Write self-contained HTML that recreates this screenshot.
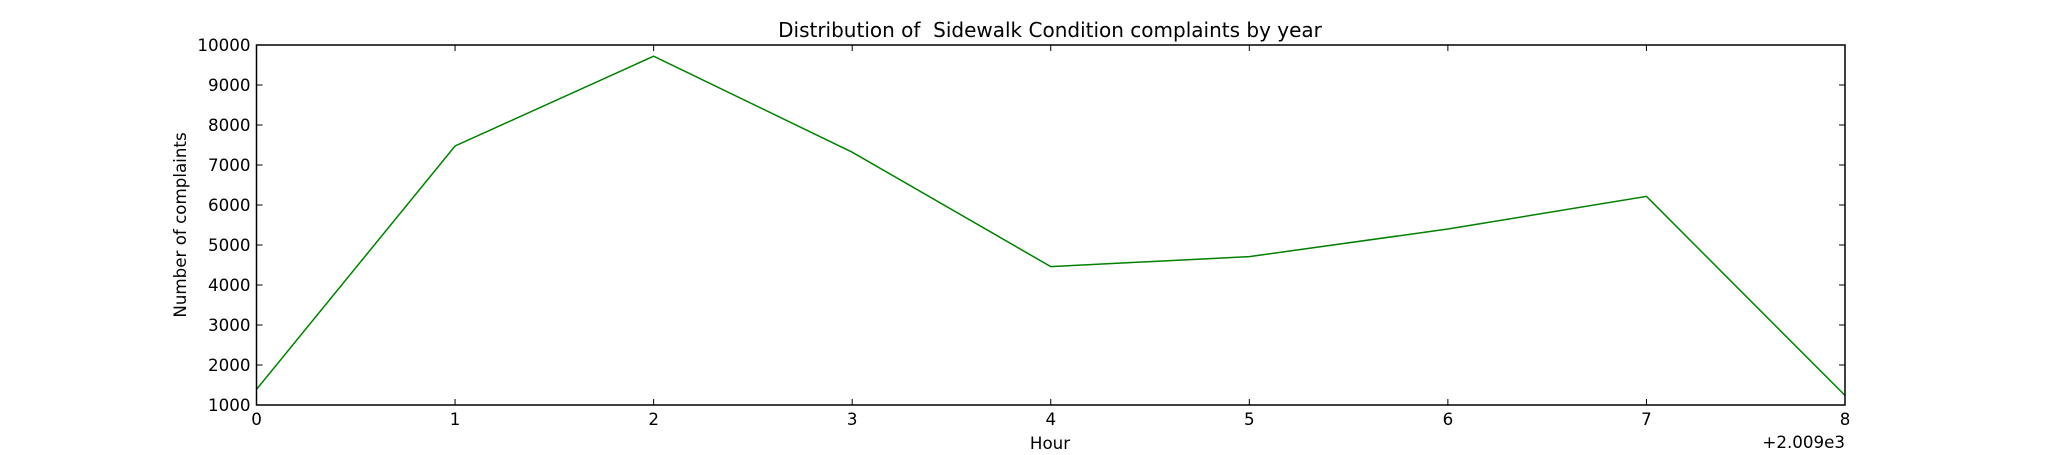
<!DOCTYPE html>
<html><head><meta charset="utf-8"><style>
html,body{margin:0;padding:0;background:#fff;}
svg text{font-family:"DejaVu Sans","Liberation Sans",sans-serif;fill:#000;}
</style></head><body>
<svg id="chart" width="2050" height="450" xmlns="http://www.w3.org/2000/svg">
<rect width="2050" height="450" fill="#fff"/>
<text x="1050" y="37" font-size="20" text-anchor="middle" style="white-space:pre">Distribution of  Sidewalk Condition complaints by year</text>
<text x="1050" y="449" font-size="16.7" text-anchor="middle">Hour</text>
<text transform="translate(186,225) rotate(-90)" font-size="16.7" text-anchor="middle">Number of complaints</text>
<text x="1845" y="448" font-size="16.7" text-anchor="end">+2.009e3</text>
<g id="ticks"></g>
<polyline id="series" fill="none" stroke="#008000" stroke-width="1.5"/>
<rect x="256.5" y="45" width="1588.5" height="360" fill="none" stroke="#000" stroke-width="1.5"/>
</svg>
<script>
const categories=[0,1,2,3,4,5,6,7,8];
const values=[1390,7475,9720,7320,4460,4710,5400,6215,1240];
const xTickLabels=["0","1","2","3","4","5","6","7","8"];
const yTickLabels=[1000,2000,3000,4000,5000,6000,7000,8000,9000,10000];
const L=256.5,R=1845,T=45,B=405,xMin=0,xMax=8,yMin=1000,yMax=10000;
function xs(v){return L+(v-xMin)/(xMax-xMin)*(R-L);}
function ys(v){return B-(v-yMin)/(yMax-yMin)*(B-T);}
const NS="http://www.w3.org/2000/svg";
const g=document.getElementById('ticks');
function ln(x1,y1,x2,y2,name){const l=document.createElementNS(NS,'line');
l.setAttribute('x1',x1);l.setAttribute('y1',y1);l.setAttribute('x2',x2);l.setAttribute('y2',y2);
l.setAttribute('stroke','#000');l.setAttribute('stroke-width','1');


g.appendChild(l);}
function tx(x,y,s,anchor,name){const t=document.createElementNS(NS,'text');
t.setAttribute('x',x);t.setAttribute('y',y);t.setAttribute('font-size','16.7');t.setAttribute('text-anchor',anchor);t.textContent=s;


g.appendChild(t);}
xTickLabels.forEach((s,i)=>{const x=xs(categories[i]);
ln(x,B,x,B-6,'x-tick');ln(x,T,x,T+6,'x-tick-top');
tx(x,425,s,'middle','x-tick-label');});
yTickLabels.forEach(v=>{const y=ys(v);
ln(L,y,L+6,y,'y-tick');ln(R,y,R-6,y,'y-tick-right');
tx(L-6,y+6,String(v),'end','y-tick-label');});
document.getElementById('series').setAttribute('points',categories.map((c,i)=>xs(c)+','+ys(values[i])).join(' '));
</script>
</body></html>
